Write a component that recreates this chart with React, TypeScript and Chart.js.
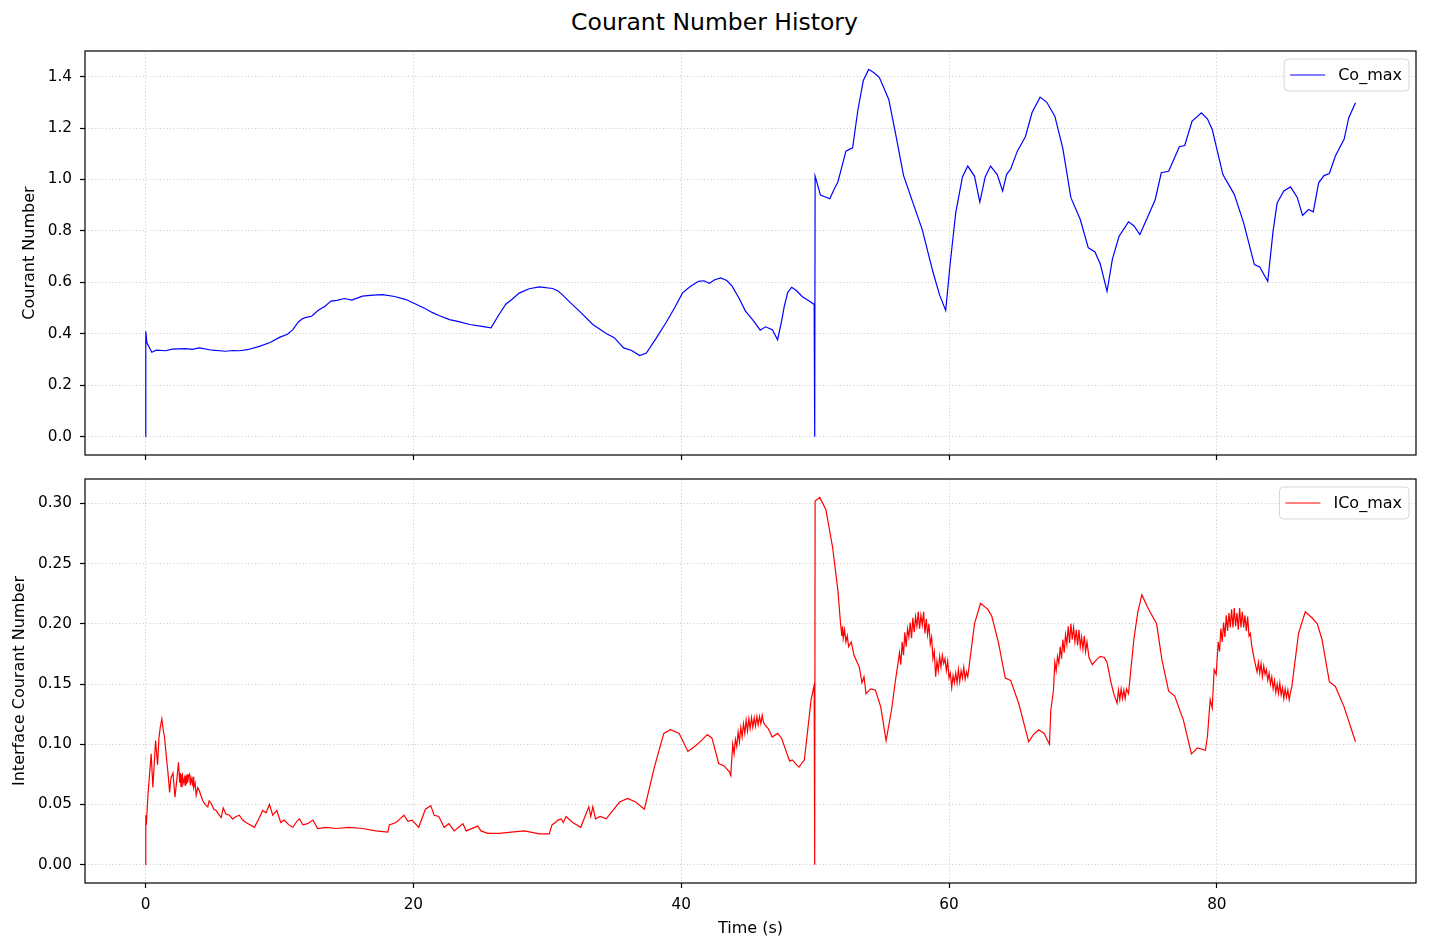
import { useEffect, useRef } from "react";
import { Chart, Plugin, registerables } from "chart.js";

Chart.register(...registerables);

// Co_max history (top panel)
const coTime = [
  0, 0.02, 0.1, 0.47, 0.8, 1.5, 2.0, 3.0, 3.5, 4.0, 5.0, 6.0, 6.5, 7.0, 7.6, 8.5, 9.3, 10.0, 10.6, 11.0,
  11.4, 11.7, 12.0, 12.4, 12.9, 13.4, 13.85, 14.3, 14.85, 15.4, 16.2, 17.0, 17.7, 18.6, 19.45, 20.2, 20.9,
  21.4, 21.9, 22.7, 23.4, 24.2, 25.0, 25.8, 26.4, 26.9, 27.4, 27.9, 28.65, 29.4, 30.4, 30.8, 31.1, 31.7,
  32.4, 33.4, 34.4, 35.0, 35.7, 36.3, 36.9, 37.4, 38.1, 38.85, 39.5, 40.1, 40.7, 41.3, 41.7, 42.1, 42.5,
  42.95, 43.4, 43.8, 44.3, 44.8, 45.4, 45.9, 46.3, 46.8, 47.2, 47.5, 47.7, 47.95, 48.25, 48.6, 49.05, 49.5,
  49.93, 49.97, 50.0, 50.4, 51.1, 51.4, 51.7, 52.0, 52.3, 52.8, 53.2, 53.6, 54.0, 54.4, 54.8, 55.5, 56.0,
  56.6, 57.3, 58.0, 58.8, 59.3, 59.75, 60.1, 60.5, 61.0, 61.4, 61.9, 62.3, 62.7, 63.1, 63.6, 64.0, 64.3,
  64.6, 65.1, 65.7, 66.2, 66.8, 67.3, 67.9, 68.5, 69.1, 69.8, 70.4, 70.9, 71.3, 71.8, 72.2, 72.7, 73.4,
  73.8, 74.25, 74.8, 75.4, 75.85, 76.4, 77.2, 77.6, 78.15, 78.85, 79.3, 79.65, 80.45, 81.3, 82.0, 82.8,
  83.2, 83.8, 84.2, 84.5, 85.0, 85.5, 86.0, 86.4, 86.85, 87.2, 87.6, 88.0, 88.4, 88.85, 89.5, 89.85, 90.35,
];
const coMax = [
  0.0, 0.41, 0.365, 0.328, 0.336, 0.334, 0.34, 0.342, 0.339, 0.345, 0.336, 0.332, 0.335, 0.334, 0.338,
  0.351, 0.366, 0.386, 0.398, 0.416, 0.445, 0.458, 0.464, 0.468, 0.491, 0.507, 0.527, 0.53, 0.537, 0.531,
  0.546, 0.55, 0.552, 0.545, 0.533, 0.515, 0.497, 0.483, 0.471, 0.455, 0.447, 0.436, 0.43, 0.423, 0.475,
  0.515, 0.535, 0.558, 0.575, 0.582, 0.576, 0.566, 0.553, 0.522, 0.488, 0.436, 0.401, 0.385, 0.345, 0.335,
  0.315, 0.325, 0.38, 0.442, 0.5, 0.559, 0.585, 0.604, 0.606, 0.596, 0.61, 0.617, 0.607, 0.585, 0.54,
  0.488, 0.45, 0.414, 0.427, 0.416, 0.377, 0.45, 0.507, 0.56, 0.581, 0.568, 0.544, 0.529, 0.514, 0.0,
  1.013, 0.939, 0.925, 0.96, 0.99, 1.05, 1.11, 1.123, 1.272, 1.385, 1.428, 1.415, 1.396, 1.311, 1.18,
  1.016, 0.91, 0.805, 0.64, 0.55, 0.491, 0.68, 0.87, 1.01, 1.052, 1.013, 0.912, 1.01, 1.052, 1.019, 0.955,
  1.02, 1.04, 1.11, 1.166, 1.26, 1.32, 1.3, 1.246, 1.12, 0.929, 0.844, 0.734, 0.718, 0.67, 0.565, 0.69,
  0.779, 0.835, 0.82, 0.786, 0.85, 0.922, 1.026, 1.032, 1.127, 1.132, 1.227, 1.259, 1.235, 1.195, 1.019,
  0.942, 0.831, 0.669, 0.66, 0.604, 0.8, 0.909, 0.955, 0.971, 0.93, 0.86, 0.883, 0.874, 0.987, 1.015,
  1.023, 1.091, 1.156, 1.24, 1.298,
];

// ICo_max history (bottom panel), in four stretches
const icoTimeStart = [
  0, 0.02, 0.06, 0.17, 0.42, 0.55, 0.75, 0.9, 1.0, 1.1,
  1.22, 1.32, 1.42, 1.55, 1.67, 1.8, 1.9, 2.05, 2.2, 2.35,
  2.46, 2.55, 2.6, 2.65, 2.7, 2.75, 2.8, 2.9, 2.95, 3.0,
  3.05, 3.1, 3.15, 3.2, 3.28, 3.35, 3.4, 3.5, 3.55, 3.6,
  3.7, 3.78, 3.9, 4.0, 4.15, 4.28, 4.45, 4.65, 4.75, 4.9,
  5.1, 5.27, 5.45, 5.65, 5.8, 6.0, 6.27, 6.5, 6.77, 7.0,
  7.25, 7.5, 8.13, 8.5, 8.75, 9.0, 9.25, 9.5, 9.8, 10.1,
  10.35, 10.7, 11.0, 11.3, 11.5, 11.75, 12.1, 12.5, 12.85, 13.5,
];
const icoStart = [
  0.0, 0.041, 0.033, 0.056, 0.092, 0.064, 0.103, 0.083, 0.105, 0.114,
  0.121, 0.112, 0.106, 0.09, 0.077, 0.06, 0.072, 0.076, 0.056, 0.072,
  0.085, 0.068, 0.076, 0.065, 0.074, 0.075, 0.067, 0.072, 0.066, 0.074,
  0.067, 0.075, 0.068, 0.073, 0.075, 0.066, 0.072, 0.067, 0.073, 0.064,
  0.068, 0.0575, 0.064, 0.062, 0.057, 0.053, 0.05, 0.048, 0.053, 0.051,
  0.046, 0.045, 0.042, 0.039, 0.047, 0.042, 0.041, 0.038, 0.04, 0.041,
  0.037, 0.035, 0.031, 0.039, 0.045, 0.043, 0.05, 0.041, 0.045, 0.035,
  0.037, 0.033, 0.031, 0.036, 0.038, 0.033, 0.034, 0.037, 0.03, 0.031,
];
const icoTimeMid = [
  14.2, 15.2, 16.2, 17.2, 18.1, 18.2, 18.7, 19.0, 19.3, 19.6,
  19.9, 20.4, 20.9, 21.3, 21.55, 21.9, 22.3, 22.65, 23.05, 23.7,
  23.95, 24.8, 25.05, 25.55, 26.4, 27.3, 28.3, 29.4, 30.15, 30.35,
  30.6, 30.8, 31.05, 31.2, 31.4, 31.9, 32.5, 33.1, 33.25, 33.4,
  33.6, 33.95, 34.4, 35.4, 36.0, 36.6, 37.25, 38.0, 38.7, 39.2,
  39.85, 40.5, 41.1, 41.5, 41.95, 42.3, 42.8, 43.2, 43.6, 43.7,
  43.85, 43.95, 44.05, 44.15, 44.25, 44.35, 44.45, 44.55, 44.65, 44.75,
  44.85, 44.95, 45.05, 45.15, 45.25, 45.35, 45.45, 45.55, 45.65, 45.75,
  45.85, 45.95, 46.05, 46.15, 46.25, 46.5, 46.8, 47.2, 47.5, 47.9,
  48.1, 48.3, 48.6, 48.8, 49.05, 49.2, 49.7, 49.93, 49.97,
];
const icoMid = [
  0.03, 0.031, 0.03, 0.028, 0.027, 0.033, 0.035, 0.038, 0.041, 0.036,
  0.037, 0.031, 0.046, 0.049, 0.041, 0.04, 0.031, 0.034, 0.028, 0.034,
  0.028, 0.032, 0.028, 0.026, 0.026, 0.027, 0.028, 0.0256, 0.0256, 0.033,
  0.035, 0.037, 0.038, 0.035, 0.04, 0.035, 0.031, 0.048, 0.04, 0.048,
  0.038, 0.04, 0.038, 0.052, 0.055, 0.052, 0.046, 0.081, 0.109, 0.112,
  0.109, 0.094, 0.099, 0.103, 0.108, 0.105, 0.084, 0.082, 0.077, 0.074,
  0.1, 0.092, 0.104, 0.098, 0.11, 0.102, 0.114, 0.106, 0.117, 0.109,
  0.12, 0.111, 0.121, 0.113, 0.122, 0.114, 0.122, 0.115, 0.123, 0.116,
  0.123, 0.117, 0.124, 0.118, 0.116, 0.113, 0.106, 0.109, 0.105, 0.092,
  0.086, 0.087, 0.083, 0.081, 0.085, 0.087, 0.137, 0.149, 0.0,
];
const icoTimeJump = [
  50.0, 50.35, 50.8, 51.3, 51.7, 51.9, 52.0, 52.05, 52.1, 52.2,
  52.3, 52.4, 52.5, 52.7, 52.9, 53.3, 53.5, 53.65, 53.8, 54.15,
  54.5, 54.9, 55.3, 55.7, 56.0, 56.2, 56.3, 56.4, 56.5, 56.6,
  56.7, 56.8, 56.9, 57.0, 57.1, 57.2, 57.3, 57.4, 57.5, 57.6,
  57.7, 57.8, 57.9, 58.0, 58.1, 58.2, 58.3, 58.4, 58.5, 58.6,
  58.7, 58.8, 58.9, 59.0, 59.1, 59.2, 59.3, 59.4, 59.5, 59.6,
  59.7, 59.8, 59.9, 60.0, 60.1, 60.2, 60.3, 60.4, 60.5, 60.6,
  60.7, 60.8, 60.9, 61.0, 61.1, 61.2, 61.3, 61.4, 61.9, 62.35,
  62.9, 63.2, 63.7, 64.2, 64.6, 65.2, 65.95, 66.3, 66.7,
];
const icoJump = [
  0.302, 0.305, 0.295, 0.264, 0.228, 0.2, 0.19, 0.198, 0.188, 0.195,
  0.185, 0.19, 0.181, 0.185, 0.174, 0.164, 0.151, 0.156, 0.142, 0.146,
  0.145, 0.131, 0.103, 0.128, 0.153, 0.168, 0.176, 0.166, 0.185, 0.174,
  0.193, 0.181, 0.196, 0.189, 0.201, 0.188, 0.205, 0.193, 0.206, 0.198,
  0.21, 0.196, 0.207, 0.199, 0.21, 0.192, 0.204, 0.191, 0.2, 0.183,
  0.189, 0.171, 0.177, 0.156, 0.169, 0.161, 0.173, 0.164, 0.174, 0.167,
  0.171, 0.161, 0.169, 0.155, 0.159, 0.147, 0.157, 0.151, 0.159, 0.151,
  0.162, 0.152, 0.161, 0.155, 0.164, 0.154, 0.16, 0.156, 0.2, 0.217,
  0.212, 0.206, 0.184, 0.155, 0.153, 0.134, 0.102, 0.108, 0.112,
];
const icoTimeEnd = [
  67.1, 67.5, 67.6, 67.8, 67.9, 68.0, 68.1, 68.2, 68.3, 68.4,
  68.5, 68.6, 68.7, 68.8, 68.9, 69.0, 69.1, 69.2, 69.3, 69.4,
  69.5, 69.6, 69.7, 69.8, 69.9, 70.0, 70.1, 70.2, 70.3, 70.45,
  70.7, 71.0, 71.3, 71.6, 71.8, 72.1, 72.3, 72.55, 72.65, 72.75,
  72.85, 72.95, 73.05, 73.15, 73.25, 73.4, 73.8, 74.1, 74.4, 74.9,
  75.5, 75.9, 76.4, 76.85, 77.5, 78.1, 78.55, 79.15, 79.3, 79.5,
  79.65, 79.8, 79.95, 80.1, 80.2, 80.3, 80.4, 80.5, 80.6, 80.7,
  80.8, 80.9, 81.0, 81.1, 81.2, 81.3, 81.4, 81.5, 81.6, 81.7,
  81.8, 81.9, 82.0, 82.1, 82.2, 82.3, 82.4, 82.5, 82.6, 82.8,
  83.0, 83.1, 83.2, 83.3, 83.4, 83.5, 83.6, 83.7, 83.8, 83.9,
  84.0, 84.1, 84.2, 84.3, 84.4, 84.5, 84.6, 84.7, 84.8, 84.9,
  85.0, 85.1, 85.2, 85.3, 85.4, 85.5, 85.6, 86.1, 86.6, 87.1,
  87.5, 87.85, 88.4, 88.85, 89.5, 90.35,
];
const icoEnd = [
  0.109, 0.1, 0.128, 0.145, 0.168, 0.161, 0.173, 0.167, 0.181, 0.171,
  0.187, 0.176, 0.191, 0.183, 0.198, 0.184, 0.2, 0.187, 0.197, 0.185,
  0.195, 0.182, 0.195, 0.181, 0.189, 0.179, 0.19, 0.177, 0.185, 0.172,
  0.166, 0.17, 0.173, 0.172, 0.168, 0.151, 0.142, 0.134, 0.145, 0.137,
  0.146, 0.138, 0.145, 0.138, 0.146, 0.142, 0.187, 0.21, 0.224, 0.212,
  0.2, 0.17, 0.144, 0.14, 0.12, 0.092, 0.097, 0.095, 0.107, 0.137,
  0.13, 0.162, 0.158, 0.185, 0.177, 0.196, 0.185, 0.201, 0.189, 0.207,
  0.194, 0.209, 0.197, 0.212, 0.197, 0.213, 0.198, 0.209, 0.195, 0.213,
  0.197, 0.21, 0.197, 0.207, 0.194, 0.206, 0.19, 0.192, 0.182, 0.17,
  0.16, 0.168, 0.159, 0.167, 0.156, 0.165, 0.158, 0.162, 0.153, 0.159,
  0.15, 0.156, 0.146, 0.153, 0.143, 0.15, 0.142, 0.151, 0.141, 0.147,
  0.138, 0.146, 0.139, 0.145, 0.137, 0.143, 0.148, 0.192, 0.21, 0.205,
  0.2, 0.187, 0.152, 0.148, 0.131, 0.102,
];

const icoTime = [...icoTimeStart, ...icoTimeMid, ...icoTimeJump, ...icoTimeEnd];
const icoMax = [...icoStart, ...icoMid, ...icoJump, ...icoEnd];

const timeTicks = [0, 20, 40, 60, 80];
const coTicks = [0, 0.2, 0.4, 0.6, 0.8, 1.0, 1.2, 1.4];
const icoTicks = [0, 0.05, 0.1, 0.15, 0.2, 0.25, 0.3];

const FONT = '"DejaVu Sans", sans-serif';
const TICK_SIZE = 15.3;
const LABEL_SIZE = 16;
const GRID = "rgba(176,176,176,0.6)";

// full box round the plot area, like matplotlib spines
const framePlugin: Plugin<"line"> = {
  id: "frame",
  afterDraw(chart) {
    const { ctx, chartArea: a } = chart;
    ctx.save();
    ctx.strokeStyle = "#000";
    ctx.lineWidth = 1.2;
    ctx.strokeRect(a.left, a.top, a.right - a.left, a.bottom - a.top);
    ctx.restore();
  },
};

function legendPlugin(label: string, color: string): Plugin<"line"> {
  return {
    id: "insideLegend",
    afterDraw(chart) {
      const { ctx, chartArea: a } = chart;
      ctx.save();
      ctx.font = `${LABEL_SIZE}px ${FONT}`;
      const tw = ctx.measureText(label).width;
      const w = 54 + tw + 7;
      const h = 32;
      const x = a.right - 7 - w;
      const y = a.top + 8;
      ctx.beginPath();
      ctx.roundRect(x, y, w, h, 4);
      ctx.fillStyle = "rgba(255,255,255,0.8)";
      ctx.fill();
      ctx.strokeStyle = "rgba(204,204,204,0.8)";
      ctx.lineWidth = 1;
      ctx.stroke();
      ctx.beginPath();
      ctx.moveTo(x + 6, y + h / 2);
      ctx.lineTo(x + 41, y + h / 2);
      ctx.strokeStyle = color;
      ctx.lineWidth = 1.2;
      ctx.stroke();
      ctx.fillStyle = "#000";
      ctx.textBaseline = "middle";
      ctx.fillText(label, x + 54, y + h / 2 + 1);
      ctx.restore();
    },
  };
}

type PanelProps = {
  times: number[];
  values: number[];
  label: string;
  color: string;
  yTicks: number[];
  yDigits: number;
  yMin: number;
  yMax: number;
  yTitle: string;
  yTitlePad: number;
  showTimeLabels: boolean;
  top: number;
  height: number;
  padTop: number;
  xAxisHeight: number;
};

function Panel(p: PanelProps) {
  const canvasRef = useRef<HTMLCanvasElement | null>(null);
  useEffect(() => {
    if (!canvasRef.current) return;
    const chart = new Chart(canvasRef.current, {
      type: "line",
      data: {
        datasets: [
          {
            label: p.label,
            data: p.times.map((t, i) => ({ x: t, y: p.values[i] })),
            borderColor: p.color,
            borderWidth: 1.2,
            pointRadius: 0,
            tension: 0,
            fill: false,
          },
        ],
      },
      options: {
        animation: false,
        responsive: false,
        layout: { padding: { top: p.padTop, right: 13, left: 0, bottom: 0 } },
        plugins: { legend: { display: false }, tooltip: { enabled: false } },
        scales: {
          x: {
            type: "linear",
            min: -4.52,
            max: 94.87,
            afterBuildTicks: (s) => {
              s.ticks = timeTicks.map((v) => ({ value: v }));
            },
            afterFit: (s) => {
              s.height = p.xAxisHeight;
            },
            grid: { color: GRID, lineWidth: 1, tickColor: "#000", tickLength: 5, tickWidth: 1.2, tickBorderDash: [] },
            border: { display: false, dash: [1.2, 2.2] },
            ticks: {
              display: p.showTimeLabels,
              autoSkip: false,
              maxRotation: 0,
              color: "#000",
              padding: 8,
              font: { family: FONT, size: TICK_SIZE },
              callback: (v) => String(v),
            },
            title: {
              display: p.showTimeLabels,
              text: "Time (s)",
              color: "#000",
              font: { family: FONT, size: LABEL_SIZE, lineHeight: 1 },
              padding: { top: 0, bottom: 12 },
            },
          },
          y: {
            type: "linear",
            min: p.yMin,
            max: p.yMax,
            afterBuildTicks: (s) => {
              s.ticks = p.yTicks.map((v) => ({ value: v }));
            },
            afterFit: (s) => {
              s.width = 85;
            },
            grid: { color: GRID, lineWidth: 1, tickColor: "#000", tickLength: 5, tickWidth: 1.2, tickBorderDash: [] },
            border: { display: false, dash: [1.2, 2.2] },
            ticks: {
              autoSkip: false,
              color: "#000",
              padding: 8,
              font: { family: FONT, size: TICK_SIZE },
              callback: (v) => Number(v).toFixed(p.yDigits),
            },
            title: {
              display: true,
              text: p.yTitle,
              color: "#000",
              font: { family: FONT, size: LABEL_SIZE, lineHeight: 1 },
              padding: { top: p.yTitlePad, bottom: 0 },
            },
          },
        },
      },
      plugins: [framePlugin, legendPlugin(p.label, p.color)],
    });
    return () => chart.destroy();
  }, [p]);
  return (
    <canvas
      ref={canvasRef}
      width={1429}
      height={p.height}
      style={{ position: "absolute", left: 0, top: p.top, width: 1429, height: p.height }}
    />
  );
}

const topPanel: PanelProps = {
  times: coTime,
  values: coMax,
  label: "Co_max",
  color: "#0000ff",
  yTicks: coTicks,
  yDigits: 1,
  yMin: -0.0714,
  yMax: 1.4994,
  yTitle: "Courant Number",
  yTitlePad: 22,
  showTimeLabels: false,
  top: 0,
  height: 485,
  padTop: 51,
  xAxisHeight: 30,
};

const bottomPanel: PanelProps = {
  times: icoTime,
  values: icoMax,
  label: "ICo_max",
  color: "#ff0000",
  yTicks: icoTicks,
  yDigits: 2,
  yMin: -0.01525,
  yMax: 0.32025,
  yTitle: "Interface Courant Number",
  yTitlePad: 11.5,
  showTimeLabels: true,
  top: 440,
  height: 509,
  padTop: 39,
  xAxisHeight: 66,
};

export default function App() {
  return (
    <div style={{ position: "fixed", left: 0, top: 0, width: 1429, height: 949, background: "#fff" }}>
      <div
        style={{
          position: "absolute",
          left: 0,
          top: 11,
          width: 1429,
          textAlign: "center",
          fontFamily: FONT,
          fontSize: 23.5,
          lineHeight: "23.5px",
          color: "#000",
        }}
      >
        Courant Number History
      </div>
      <Panel {...topPanel} />
      <Panel {...bottomPanel} />
    </div>
  );
}
